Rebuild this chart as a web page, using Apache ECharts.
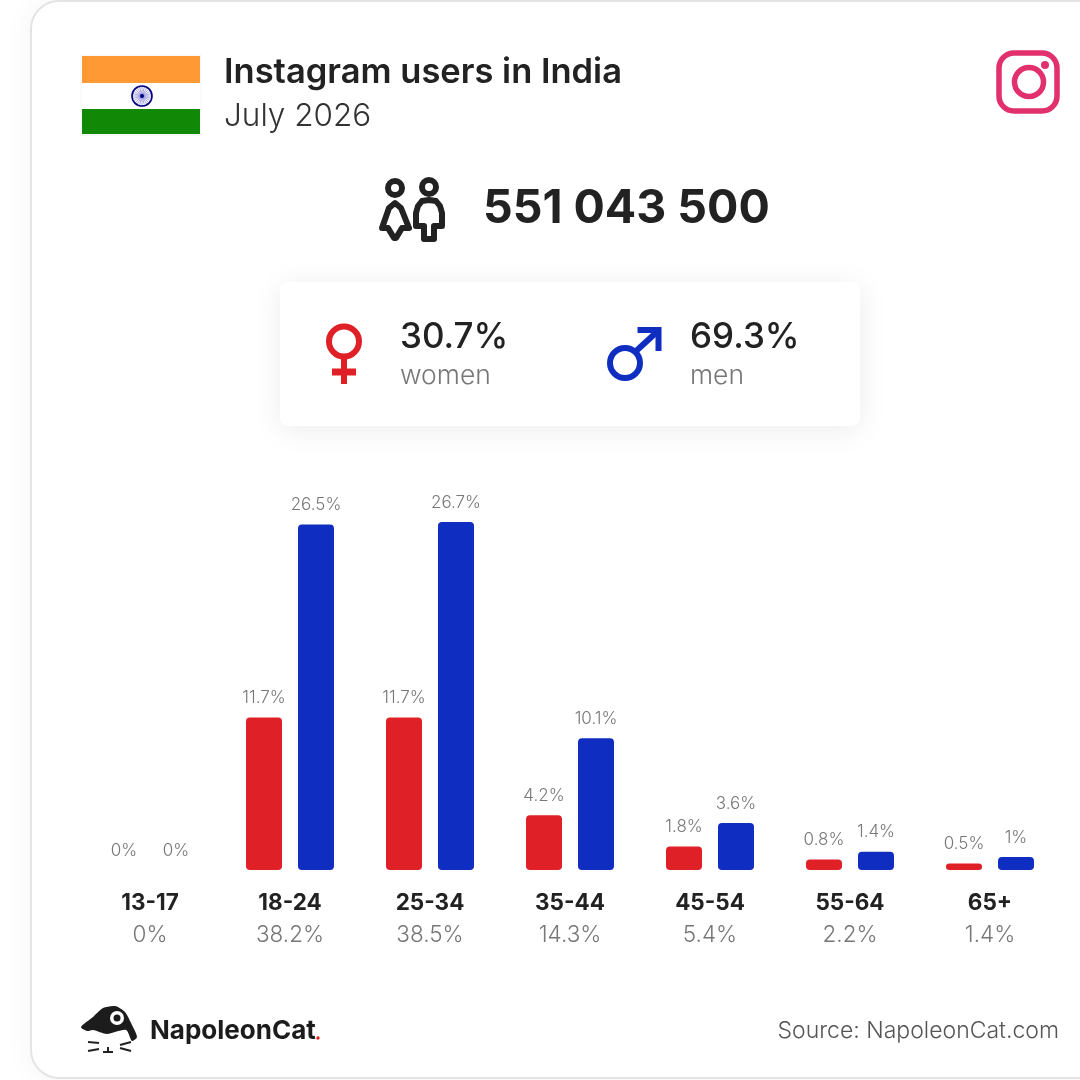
<!DOCTYPE html>
<html><head><meta charset="utf-8">
<style>html,body{margin:0;padding:0;background:#fff}#c{width:1080px;height:1080px}</style>
<script src="https://cdn.jsdelivr.net/npm/echarts@6/dist/echarts.min.js"></script>
</head><body><div id="c"></div>
<script>
const categories = ['13-17','18-24','25-34','35-44','45-54','55-64','65+'];
const women = [0,11.7,11.7,4.2,1.8,0.8,0.5];
const men = [0,26.5,26.7,10.1,3.6,1.4,1];
const totals = ['0%','38.2%','38.5%','14.3%','5.4%','2.2%','1.4%'];
const FONT = 'Inter';
const RED = '#DF2027', BLUE = '#0F2DC0', INK = '#222222';
const labelStyle = {show:true,position:'top',distance:11,fontFamily:FONT,fontWeight:300,fontSize:17,color:'#777',formatter:p=>p.value+'%'};
const txt = (x,y,text,size,weight,color,align,extra) => ({type:'text',x,y,silent:true,style:Object.assign({text,fontFamily:FONT,fontSize:size,fontWeight:weight,fill:color,align:align||'left',verticalAlign:'middle'},extra||{})});
const rect = (x,y,width,height,fill,r) => ({type:'rect',silent:true,shape:{x,y,width,height,r:r||0},style:{fill}});
const ring = (cx,cy,r,color,lw) => ({type:'circle',silent:true,shape:{cx,cy,r},style:{fill:'none',stroke:color,lineWidth:lw}});
const dot = (cx,cy,r,fill) => ({type:'circle',silent:true,shape:{cx,cy,r},style:{fill}});
const seg = (x1,y1,x2,y2,color,lw,cap) => ({type:'line',silent:true,shape:{x1,y1,x2,y2},style:{stroke:color,lineWidth:lw,lineCap:cap||'butt'}});
const spokes = [];
for (let i=0;i<24;i++){const a=i*Math.PI/12;spokes.push(seg(142,96,142+10*Math.cos(a),96+10*Math.sin(a),'#8080d8',0.7));}
const graphics = [
  {type:'rect',silent:true,shape:{x:31,y:1,width:1200,height:1077,r:28},style:{fill:'#fff',stroke:'#e4e4e4',lineWidth:2,shadowBlur:30,shadowColor:'rgba(0,0,0,0.05)'}},
  {type:'rect',silent:true,shape:{x:81,y:55,width:120,height:80},style:{fill:'#fff',stroke:'#f4f4f4',lineWidth:1}},
  rect(82,56,118,27,'#FF9933'),rect(82,83,118,26,'#FFFFFF'),rect(82,109,118,25,'#128807'),
  ...spokes,ring(142,96,10,'#000080',1.6),dot(142,96,2,'#000080'),
  txt(224,73,'Instagram users in India',34.5,600,INK),
  txt(224,117,'July 2026',31.5,300,'#333'),
  {type:'rect',silent:true,shape:{x:999,y:53,width:58,height:58,r:15},style:{fill:'none',stroke:'#E1306C',lineWidth:5.5}},
  ring(1029,82,14.5,'#E1306C',5.5),dot(1045,65,4,'#E1306C'),
  // people icon
  ring(395,188,7,INK,6),ring(429,187,7,INK,6),
  {type:'polygon',silent:true,shape:{points:[[395,203],[401,208],[409,228],[402,228],[396,238],[394,238],[388,228],[382,228],[389,208]]},style:{fill:'none',stroke:INK,lineWidth:6,lineJoin:'round'}},
  {type:'polygon',silent:true,shape:{points:[[429,200],[436,201],[440,206],[442,213],[442,226],[434,226],[434,239],[424,239],[424,226],[416,226],[416,213],[418,206],[422,201]]},style:{fill:'none',stroke:INK,lineWidth:6,lineJoin:'round'}},
  txt(483,209,'551 043 500',46.5,700,INK),
  // gender card
  {type:'rect',silent:true,shape:{x:280,y:282,width:580,height:144,r:8},style:{fill:'#fff',shadowBlur:30,shadowColor:'rgba(0,0,0,0.08)',shadowOffsetY:4}},
  ring(344,341.5,15,RED,6),seg(344,356,344,384,RED,6),seg(332,372,356,372,RED,7),
  txt(400,337,'30.7%',35,500,INK),txt(400,376,'women',26.5,300,'#777'),
  ring(625,363,15,BLUE,6),seg(635,352,659,330,BLUE,6),
  {type:'polyline',silent:true,shape:{points:[[637.5,330],[658.5,330],[658.5,351]]},style:{fill:'none',stroke:BLUE,lineWidth:6}},
  txt(690,337,'69.3%',35,500,INK),txt(690,376,'men',26.5,300,'#777'),
  // logo
  {type:'polygon',silent:true,shape:{smooth:0.25,points:[[81,1027],[93,1017],[103,1008],[115,1006],[125,1012],[132,1025],[137,1037],[132,1041],[126,1030],[107,1034],[93,1030],[87,1031]]},style:{fill:'#1c1c1c'}},
  dot(117,1018,7,'#fff'),dot(117,1018,3.5,'#1c1c1c'),
  seg(88,1042,99,1043,INK,2),seg(88,1051,99,1049,INK,2),seg(120,1045,131,1042,INK,2),seg(120,1048,131,1051,INK,2),
  seg(108,1047,108,1052,INK,2),seg(103,1052,113,1052,INK,2),
  txt(150,1031,'NapoleonCat',26,700,'#1c1c1c'),dot(318,1038,1.7,RED),
  txt(1059,1031,'Source: NapoleonCat.com',23,300,'#555','right')
];
const chart = echarts.init(document.getElementById('c'),null,{renderer:'canvas'});
chart.setOption({
  animation:false,
  graphic:{elements:graphics},
  grid:{left:80,right:20,top:479,bottom:210},
  xAxis:{type:'category',data:categories,axisLine:{show:false},axisTick:{show:false},
    axisLabel:{interval:0,margin:17,formatter:(v,i)=>'{a|'+v+'}\n{b|'+totals[i]+'}',
      rich:{a:{fontFamily:FONT,fontWeight:700,fontSize:22.5,color:INK,lineHeight:32,align:'center'},
            b:{fontFamily:FONT,fontWeight:300,fontSize:22.5,color:'#777',lineHeight:32,align:'center'}}}},
  yAxis:{type:'value',min:0,max:30,show:false},
  series:[
    {type:'bar',name:'women',data:women,barWidth:36,barGap:'44.4%',itemStyle:{color:RED,borderRadius:4},label:labelStyle},
    {type:'bar',name:'men',data:men,barWidth:36,itemStyle:{color:BLUE,borderRadius:4},label:labelStyle}
  ]
});
</script></body></html>
